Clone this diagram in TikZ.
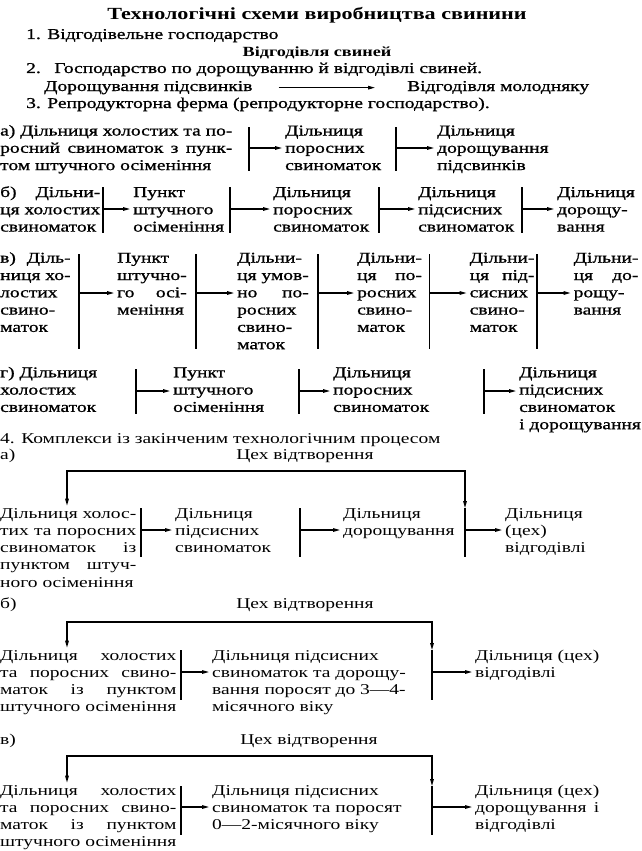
\documentclass[tikz,border=0pt]{standalone}
\usepackage{fontspec}
\usepackage{calc}
\setmainfont[FakeStretch=1.3]{Liberation Serif}
\newfontfamily\heavyfont[FakeStretch=1.3,FakeBold=1]{Liberation Serif}
\usetikzlibrary{arrows.meta,positioning}

\newcommand{\bodysize}{\fontsize{15}{17.3}\selectfont}
% justify a line to the width of another one
\newcommand{\jl}[2]{\makebox[\widthof{#1}][s]{#2}}
% lines of a column, baseline on the first line
\newcommand{\txtcol}[1]{\begin{tabular}[t]{@{}l@{}}#1\end{tabular}}

\tikzset{
  txt/.style={inner sep=0pt, anchor=base west, font=\bodysize},
  txtb/.style={txt, font=\heavyfont\bodysize},
  bar/.style={line width=1.8pt},
  arr/.style={line width=1.1pt, -{Triangle[length=7pt,width=3.6pt]}, shorten >=3pt},
  backline/.style={line width=1.1pt, {Triangle[length=7pt,width=3.6pt]}-{Triangle[length=7pt,width=3.6pt]}},
}

\begin{document}
\begin{tikzpicture}[x=1pt, y=-1pt]
  \useasboundingbox (0,0) rectangle (642,851);

  % Heading and items 1-3
  \node[inner sep=0pt, anchor=base, font=\bfseries\fontsize{17}{20}\selectfont] (title) at (317,20) {Технологічні схеми виробництва свинини};
  \node[txtb] (s1) at (26,39) {1. Відгодівельне господарство};
  \node[inner sep=0pt, anchor=base, font=\bfseries\fontsize{14}{17}\selectfont] (s1b) at (317,57) {Відгодівля свиней};
  \node[txtb] (s2) at (26,73) {2.\hspace{7pt} Господарство по дорощуванню й відгодівлі свиней.};
  \node[txtb] (s2a) at (44,91) {Дорощування підсвинків};
  \node[txtb] (s2b) at (407,91) {Відгодівля молодняку};
  \draw[arr, shorten <=26pt, shorten >=32pt] (s2a.east) -- (s2a.east -| s2b.west);
  \node[txtb] (s3) at (26,108) {3. Репродукторна ферма (репродукторне господарство).};

  % Row a
  \node[txtb] (ra1) at (0,135.5) {\txtcol{а) Дільниця холостих та по-\\\jl{а) Дільниця холостих та по-}{росний свиноматок з пунк-}\\том штучного осіменіння}};
  \node[txtb] (ra2) at (285,135.5) {\txtcol{Дільниця\\поросних\\свиноматок}};
  \node[txtb] (ra3) at (437,135.5) {\txtcol{Дільниця\\дорощування\\підсвинків}};
  \foreach \x/\n in {249/ra2, 396/ra3} {
    \draw[bar] (\x,127) -- (\x,171);
    \coordinate (\n-in) at (\x,148);
    \draw[arr] (\n-in) -- (\n-in -| \n.west);
  }

  % Row b
  \node[txtb] (rb1) at (0,197) {\txtcol{\jl{ця холостих}{б) Дільни-}\\ця холостих\\свиноматок}};
  \node[txtb] (rb2) at (133,197) {\txtcol{Пункт\\штучного\\осіменіння}};
  \node[txtb] (rb3) at (273,197) {\txtcol{Дільниця\\поросних\\свиноматок}};
  \node[txtb] (rb4) at (418,197) {\txtcol{Дільниця\\підсисних\\свиноматок}};
  \node[txtb] (rb5) at (557,197) {\txtcol{Дільниця\\дорощу-\\вання}};
  \foreach \x/\n in {103/rb2, 230/rb3, 379.3/rb4, 522.3/rb5} {
    \draw[bar] (\x,187) -- (\x,233);
    \coordinate (\n-in) at (\x,209);
    \draw[arr] (\n-in) -- (\n-in -| \n.west);
  }

  % Row v
  \node[txtb] (rv1) at (0,262.7) {\txtcol{\jl{ниця хо-}{в) Діль-}\\ниця хо-\\лостих\\свино-\\маток}};
  \node[txtb] (rv2) at (117,262.7) {\txtcol{Пункт\\штучно-\\\jl{штучно-}{го осі-}\\меніння}};
  \node[txtb] (rv3) at (237,262.7) {\txtcol{Дільни-\\ця умов-\\\jl{ця умов-}{но по-}\\росних\\свино-\\маток}};
  \node[txtb] (rv4) at (357,262.7) {\txtcol{Дільни-\\\jl{Дільни-}{ця по-}\\росних\\свино-\\маток}};
  \node[txtb] (rv5) at (469.5,262.7) {\txtcol{Дільни-\\\jl{Дільни-}{ця під-}\\сисних\\свино-\\маток}};
  \node[txtb] (rv6) at (573.5,262.7) {\txtcol{Дільни-\\\jl{Дільни-}{ця до-}\\рощу-\\вання}};
  \foreach \x/\n in {79/rv2, 196/rv3, 318/rv4, 429.5/rv5, 537/rv6} {
    \draw[bar] (\x,254) -- (\x,349);
    \coordinate (\n-in) at (\x,293);
    \draw[arr] (\n-in) -- (\n-in -| \n.west);
  }

  % Row g
  \node[txtb] (rg1) at (0,377.3) {\txtcol{г) Дільниця\\холостих\\свиноматок}};
  \node[txtb] (rg2) at (173,377.3) {\txtcol{Пункт\\штучного\\осіменіння}};
  \node[txtb] (rg3) at (333,377.3) {\txtcol{Дільниця\\поросних\\свиноматок}};
  \node[txtb] (rg4) at (519,377.3) {\txtcol{Дільниця\\підсисних\\свиноматок\\і дорощування}};
  \foreach \x/\n in {136/rg2, 299/rg3, 484/rg4} {
    \draw[bar] (\x,369) -- (\x,414);
    \coordinate (\n-in) at (\x,391);
    \draw[arr] (\n-in) -- (\n-in -| \n.west);
  }

  % Item 4
  \node[txt] (k4) at (0,443) {4. Комплекси із закінченим технологічним процесом};

  % 4 a
  \node[txt] (ka) at (0,459) {а)};
  \node[txt, anchor=base] (kaT) at (305,459) {Цех відтворення};
  \node[txt] (ka1) at (0,518) {\txtcol{Дільниця холос-\\\jl{Дільниця холос-}{тих та поросних}\\\jl{Дільниця холос-}{свиноматок із}\\\jl{Дільниця холос-}{пунктом штуч-}\\ного осіменіння}};
  \node[txt] (ka2) at (175,518) {\txtcol{Дільниця\\підсисних\\свиноматок}};
  \node[txt] (ka3) at (343,518) {\txtcol{Дільниця\\дорощування}};
  \node[txt] (ka4) at (505,518) {\txtcol{Дільниця\\(цех)\\відгодівлі}};
  \foreach \x/\n in {141/ka2, 300/ka3, 465/ka4} {
    \draw[bar] (\x,508) -- (\x,557);
    \coordinate (\n-in) at (\x,530);
    \draw[arr] (\n-in) -- (\n-in -| \n.west);
  }
  \coordinate (kaTop) at (465,471);
  \coordinate (ka4-top) at (465,508);
  \draw[backline] (ka1.north -| 67,0) |- (kaTop) -- (ka4-top);

  % 4 b
  \node[txt] (kb) at (0,608) {б)};
  \node[txt, anchor=base] (kbT) at (305,608) {Цех відтворення};
  \node[txt] (kb1) at (0,660) {\txtcol{\jl{штучного осіменіння}{Дільниця холостих}\\\jl{штучного осіменіння}{та поросних свино-}\\\jl{штучного осіменіння}{маток із пунктом}\\штучного осіменіння}};
  \node[txt] (kb2) at (212,660) {\txtcol{Дільниця підсисних\\свиноматок та дорощу-\\\jl{свиноматок та дорощу-}{вання поросят до 3—4-}\\місячного віку}};
  \node[txt] (kb3) at (475,660) {\txtcol{Дільниця (цех)\\відгодівлі}};
  \foreach \x/\n in {181/kb2, 432/kb3} {
    \draw[bar] (\x,650) -- (\x,700);
    \coordinate (\n-in) at (\x,672);
    \draw[arr] (\n-in) -- (\n-in -| \n.west);
  }
  \coordinate (kbTop) at (432,622);
  \coordinate (kb3-top) at (432,650);
  \draw[backline] (kb1.north -| 67,0) |- (kbTop) -- (kb3-top);

  % 4 v
  \node[txt] (kv) at (0,744) {в)};
  \node[txt, anchor=base] (kvT) at (309,744) {Цех відтворення};
  \node[txt] (kv1) at (0,795) {\txtcol{\jl{штучного осіменіння}{Дільниця холостих}\\\jl{штучного осіменіння}{та поросних свино-}\\\jl{штучного осіменіння}{маток із пунктом}\\штучного осіменіння}};
  \node[txt] (kv2) at (212,795) {\txtcol{Дільниця підсисних\\свиноматок та поросят\\0—2-місячного віку}};
  \node[txt] (kv3) at (475,795) {\txtcol{Дільниця (цех)\\\jl{Дільниця (цех)}{дорощування і}\\відгодівлі}};
  \foreach \x/\n in {181/kv2, 432/kv3} {
    \draw[bar] (\x,786) -- (\x,835);
    \coordinate (\n-in) at (\x,807);
    \draw[arr] (\n-in) -- (\n-in -| \n.west);
  }
  \coordinate (kvTop) at (432,756);
  \coordinate (kv3-top) at (432,786);
  \draw[backline] (kv1.north -| 67,0) |- (kvTop) -- (kv3-top);
\end{tikzpicture}
\end{document}
